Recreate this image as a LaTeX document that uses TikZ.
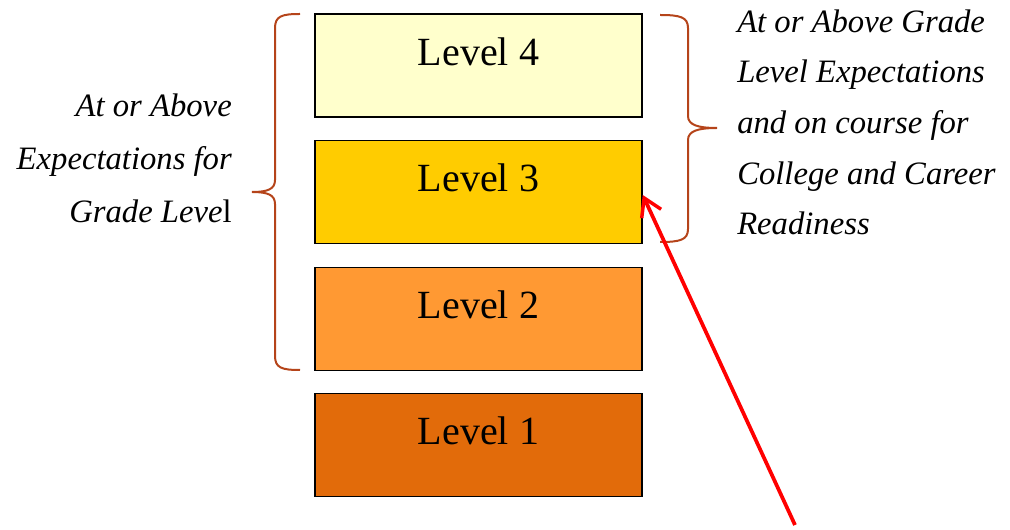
\documentclass[tikz,border=0pt]{standalone}
\usepackage{fontspec}
\setmainfont{Liberation Serif}
\usetikzlibrary{arrows.meta}
\definecolor{lv4}{HTML}{FFFFCC}
\definecolor{lv3}{HTML}{FFCC00}
\definecolor{lv2}{HTML}{FF9933}
\definecolor{lv1}{HTML}{E26B0A}
\definecolor{bracecol}{HTML}{B5441A}
\tikzset{
  lvlbox/.style={draw=black, line width=1.1pt, minimum width=245.25pt, minimum height=77.25pt, inner sep=0pt,
    font=\fontsize{30}{36}\selectfont, text height=12pt, text depth=12pt},
  bracepath/.style={draw=bracecol, line width=1.5pt},
  lefttext/.style={inner sep=0pt, font=\fontsize{24.5}{39.75}\selectfont\itshape},
  righttext/.style={inner sep=0pt, font=\fontsize{24.5}{38}\selectfont\itshape},
  redarrow/.style={draw=red, line width=2.8pt, -{Straight Barb[length=13pt, width=16pt, line width=2.6pt]}}
}
\begin{document}
\begin{tikzpicture}[x=0.75pt, y=-0.75pt]
\useasboundingbox (0,0) rectangle (1010,530);
\node[lvlbox, fill=lv4] (l4) at (478.5,65.5) {Level 4};
\node[lvlbox, fill=lv3] (l3) at (478.5,192) {Level 3};
\node[lvlbox, fill=lv2] (l2) at (478.5,319) {Level 2};
\node[lvlbox, fill=lv1] (l1) at (478.5,445) {Level 1};
% left brace
\draw[bracepath] (300,14) .. controls (282,14) and (275,16) .. (275,28) -- (275,180)
  .. controls (275,189) and (268,192) .. (252,192)
  .. controls (268,192) and (275,195) .. (275,204) -- (275,356)
  .. controls (275,368) and (282,370) .. (300,370);
% right brace
\draw[bracepath] (660,15) .. controls (680,15) and (688,17) .. (688,28) -- (688,116)
  .. controls (688,125) and (698,128) .. (717,128)
  .. controls (698,128) and (688,131) .. (688,140) -- (688,229)
  .. controls (688,240) and (680,242) .. (660,242);
\node[lefttext, anchor=base east, align=right] (lt) at (232,223) {At or Above\\Expectations for\\{\itshape Grade Leve}\upshape l};
\node[righttext, anchor=base west, align=left] (rt) at (737,235) {At or Above Grade\\Level Expectations\\and on course for\\College and Career\\Readiness};
\coordinate (as) at (795,525);
\draw[redarrow] (as) -- ([yshift=-2.25pt]l3.east);
\end{tikzpicture}
\end{document}
